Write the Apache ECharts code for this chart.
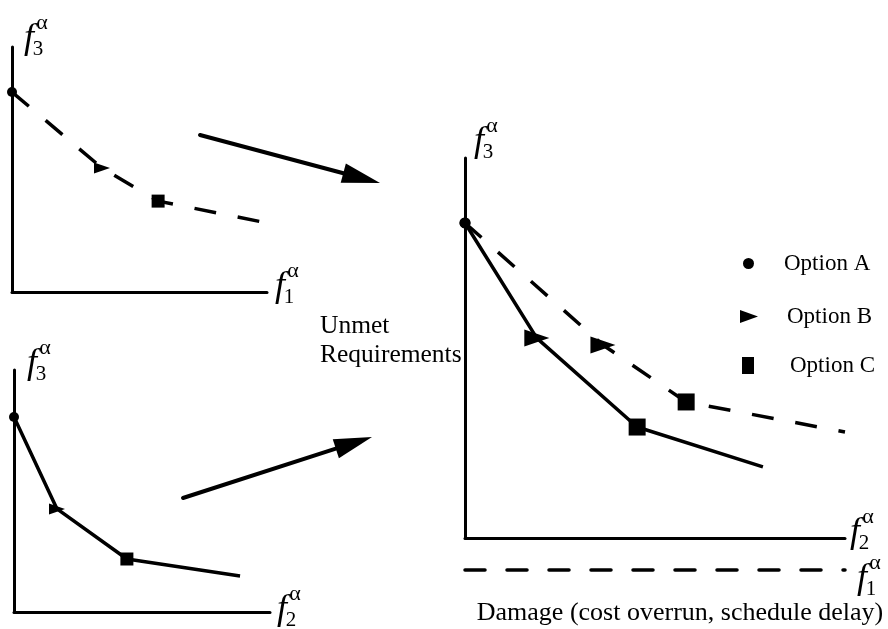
<!DOCTYPE html>
<html>
<head>
<meta charset="utf-8">
<script src="https://cdn.jsdelivr.net/npm/echarts@6/dist/echarts.min.js"></script>
<style>html,body{margin:0;padding:0;background:#fff;}#c{width:888px;height:629px;}</style>
</head>
<body>
<div id="c"></div>
<script>
// ---- data (abstract units, each axis runs 0..10) ----
const optionNames = ['Option A', 'Option B', 'Option C'];
// top-left: f3 vs f1 (dashed)
const smallF1Curve = [[0, 8.16], [3.53, 5.06], [5.73, 3.71], [10, 2.82]];
// bottom-left: f3 vs f2 (solid)
const smallF2Curve = [[0, 8.06], [1.68, 4.26], [4.41, 2.19], [8.83, 1.49]];
// right: combined, f2 (solid) and f1 (dashed)
const bigF2Curve = [[0, 8.29], [1.89, 5.26], [4.53, 2.92], [7.84, 1.87]];
const bigF1Curve = [[0, 8.29], [3.63, 5.08], [5.82, 3.58], [10, 2.79]];
const yLabelText = ['Unmet', 'Requirements'];
const xLabelText = 'Damage (cost overrun, schedule delay)';

const chart = echarts.init(document.getElementById('c'), null, {renderer: 'canvas'});
const SERIF = '"Liberation Serif","Times New Roman",serif';
const BLACK = '#000';

function axis(gridIndex, extra) {
  return Object.assign({
    type: 'value', gridIndex: gridIndex, min: 0, max: 10,
    axisLine: {show: true, onZero: false, lineStyle: {color: BLACK, width: 3}},
    axisTick: {show: false}, axisLabel: {show: false}, splitLine: {show: false}
  }, extra || {});
}

function lineSeries(idx, data, dashed) {
  return {
    type: 'line', xAxisIndex: idx, yAxisIndex: idx, data: data,
    symbol: 'none', silent: true, z: 2, clip: false,
    lineStyle: {color: BLACK, width: 3.5, type: dashed ? [22, 22] : 'solid'}
  };
}

function markerSeries(idx, curves, big) {
  const out = [];
  const sym = ['circle', 'triangle', 'rect'];
  const size = big ? [11, [17, 25], 17] : [10, [11, 16], 13];
  for (let k = 0; k < 3; k++) {
    const pts = [];
    curves.forEach(function (c) { pts.push(c[k]); });
    out.push({
      type: 'scatter', name: optionNames[k], xAxisIndex: idx, yAxisIndex: idx,
      data: pts, symbol: sym[k], symbolSize: size[k], symbolRotate: k === 1 ? -90 : 0,
      itemStyle: {color: BLACK, opacity: 1}, z: 5, silent: true, clip: false
    });
  }
  return out;
}

// f^alpha_n labels
function fLabel(cx, cy, sub) {
  return [
    {type: 'text', x: cx, y: cy, style: {text: 'f', fill: BLACK, font: 'italic 36px ' + SERIF, align: 'center', verticalAlign: 'middle', textAlign: 'center', textVerticalAlign: 'middle'}},
    {type: 'text', x: cx + 13, y: cy - 16, style: {text: 'α', fill: BLACK, font: '22px ' + SERIF, align: 'center', verticalAlign: 'middle', textAlign: 'center', textVerticalAlign: 'middle'}},
    {type: 'text', x: cx + 9, y: cy + 10, style: {text: sub, fill: BLACK, font: '21px ' + SERIF, align: 'center', verticalAlign: 'middle', textAlign: 'center', textVerticalAlign: 'middle'}}
  ];
}

function arrow(x1, y1, x2, y2) {
  const L = 38, W = 10;
  const dx = x2 - x1, dy = y2 - y1, len = Math.sqrt(dx * dx + dy * dy);
  const ux = dx / len, uy = dy / len, nx = -uy, ny = ux;
  const bx = x2 - ux * L, by = y2 - uy * L;
  return [
    {type: 'line', shape: {x1: x1, y1: y1, x2: bx + ux * 4, y2: by + uy * 4}, style: {stroke: BLACK, lineWidth: 4, lineCap: 'round'}},
    {type: 'polygon', shape: {points: [[x2, y2], [bx + nx * W, by + ny * W], [bx - nx * W, by - ny * W]]}, style: {fill: BLACK}}
  ];
}

let graphics = [];
graphics = graphics.concat(fLabel(29, 39, '3'), fLabel(280, 287, '1'));
graphics = graphics.concat(fLabel(32, 364, '3'), fLabel(282, 610, '2'));
graphics = graphics.concat(fLabel(479, 142, '3'), fLabel(855, 533, '2'), fLabel(862, 579, '1'));
graphics = graphics.concat(arrow(200, 135, 380, 183), arrow(183, 498, 372, 437));
graphics.push({type: 'text', x: 320, y: 312, style: {text: yLabelText.join('\n'), fill: BLACK, font: '25.5px ' + SERIF, lineHeight: 29, align: 'left', verticalAlign: 'top', textAlign: 'left', textVerticalAlign: 'top'}});
graphics.push({type: 'text', x: 680, y: 613, style: {text: xLabelText, fill: BLACK, font: '26px ' + SERIF, align: 'center', verticalAlign: 'middle', textAlign: 'center', textVerticalAlign: 'middle'}});

function legend(name, icon, w, h, left, top, pad) {
  return {
    data: [name], icon: icon, itemWidth: w, itemHeight: h, left: left, top: top,
    selectedMode: false, orient: 'vertical', padding: 0,
    itemStyle: {color: BLACK, opacity: 1},
    textStyle: {fontFamily: SERIF, fontSize: 23, color: BLACK, padding: [0, 0, 0, pad]}
  };
}

const option = {
  backgroundColor: '#fff',
  animation: false,
  grid: [
    {left: 12, top: 47, width: 255, height: 245},
    {left: 14, top: 370, width: 256, height: 242},
    {left: 465, top: 158, width: 380, height: 380}
  ],
  xAxis: [
    axis(0), axis(1), axis(2),
    axis(2, {position: 'bottom', offset: 32, axisLine: {show: true, onZero: false, lineStyle: {color: BLACK, width: 3.5, type: [20, 22]}}})
  ],
  yAxis: [axis(0), axis(1), axis(2)],
  legend: [
    legend('Option A', 'circle', 11, 11, 743, 252, 25),
    legend('Option B', 'path://M0,0 L18,6.5 L0,13 Z', 18, 14, 740, 305, 24),
    legend('Option C', 'rect', 12, 17, 742, 354, 31)
  ],
  series: [].concat(
    [lineSeries(0, smallF1Curve, true)],
    markerSeries(0, [smallF1Curve], false),
    [lineSeries(1, smallF2Curve, false)],
    markerSeries(1, [smallF2Curve], false),
    [lineSeries(2, bigF2Curve, false), lineSeries(2, bigF1Curve, true)],
    markerSeries(2, [bigF2Curve, bigF1Curve], true)
  ),
  graphic: graphics
};
chart.setOption(option);
</script>
</body>
</html>
